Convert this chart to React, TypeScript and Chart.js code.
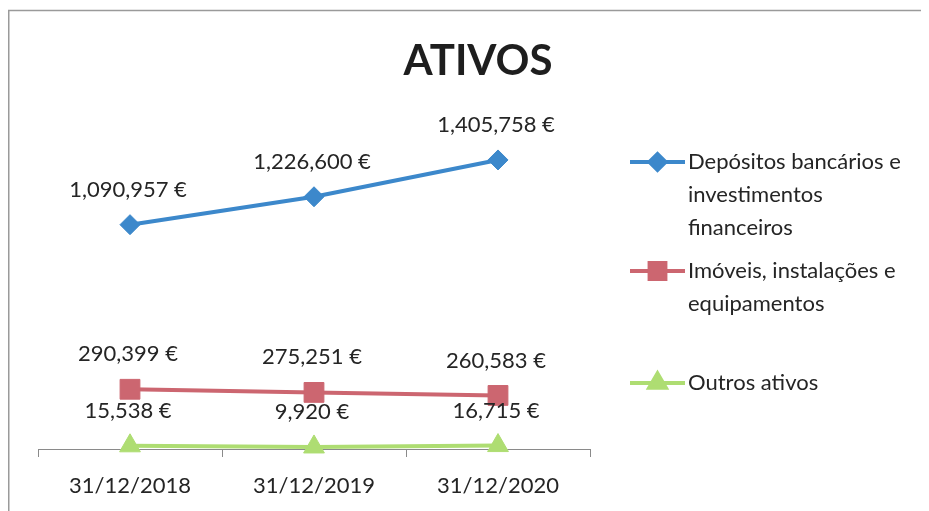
import { useEffect, useRef } from "react";
import { Chart, registerables } from "chart.js";
import { drawPoint } from "chart.js/helpers";

Chart.register(...registerables);

const chartTitle = "ATIVOS";
const categories = ["31/12/2018", "31/12/2019", "31/12/2020"];
const seriesNames = [
  "Depósitos bancários e investimentos financeiros",
  "Imóveis, instalações e equipamentos",
  "Outros ativos",
];
const depositos = [1090957, 1226600, 1405758];
const imoveis = [290399, 275251, 260583];
const outros = [15538, 9920, 16715];

const FONT = "Lato, 'Open Sans', 'Noto Sans', sans-serif";
const BLUE = "#3c88cb";
const RED = "#cc6670";
const GREEN = "#aedd72";
const TEXT = "#252525";

const fmt = (v: number) => String(v).replace(/\B(?=(\d{3})+(?!\d))/g, ",") + " €";

const decoPlugin = {
  id: "deco",
  beforeDraw(chart: any) {
    const { ctx, width, height } = chart;
    ctx.save();
    ctx.fillStyle = "#ffffff";
    ctx.fillRect(0, 0, width, height);
    ctx.strokeStyle = "#9a9a9a";
    ctx.lineWidth = 1.5;
    ctx.beginPath();
    ctx.moveTo(0.75, height);
    ctx.lineTo(0.75, 2.5);
    ctx.lineTo(width, 2.5);
    ctx.stroke();
    ctx.restore();
  },
  afterDatasetsDraw(chart: any) {
    const { ctx } = chart;
    ctx.save();
    ctx.font = `22px ${FONT}`;
    ctx.fillStyle = TEXT;
    ctx.textAlign = "center";
    ctx.textBaseline = "middle";
    chart.data.datasets.forEach((ds: any, i: number) => {
      const meta = chart.getDatasetMeta(i);
      meta.data.forEach((pt: any, j: number) => {
        ctx.fillText(fmt(ds.data[j]), pt.x - 2, pt.y - 35);
      });
    });
    ctx.restore();
  },
  afterDraw(chart: any) {
    const { ctx } = chart;
    ctx.save();
    // title
    ctx.font = `bold 42px ${FONT}`;
    ctx.fillStyle = "#1e1e1e";
    ctx.textAlign = "center";
    ctx.textBaseline = "alphabetic";
    ctx.fillText(chartTitle, 470, 67);

    // legend
    const tops = [154, 263, 375];
    const lineH = 33;
    const lx0 = 622;
    const lx1 = 677;
    const tx = 680;
    const maxW = 240;
    ctx.font = `22px ${FONT}`;
    chart.data.datasets.forEach((ds: any, i: number) => {
      const y = tops[i];
      ctx.strokeStyle = ds.borderColor;
      ctx.lineWidth = 4;
      ctx.beginPath();
      ctx.moveTo(lx0, y);
      ctx.lineTo(lx1, y);
      ctx.stroke();
      ctx.fillStyle = ds.backgroundColor;
      ctx.strokeStyle = ds.borderColor;
      drawPoint(
        ctx,
        { pointStyle: ds.pointStyle, radius: ds.pointRadius * 0.8, rotation: 0, borderWidth: 1 },
        (lx0 + lx1) / 2,
        y
      );
      // wrap text
      const words = String(ds.label).split(" ");
      const lines: string[] = [];
      let cur = "";
      words.forEach((w) => {
        const test = cur ? cur + " " + w : w;
        if (ctx.measureText(test).width > maxW && cur) {
          lines.push(cur);
          cur = w;
        } else {
          cur = test;
        }
      });
      if (cur) lines.push(cur);
      ctx.fillStyle = TEXT;
      ctx.textAlign = "left";
      ctx.textBaseline = "middle";
      lines.forEach((ln, k) => ctx.fillText(ln, tx, y + k * lineH));
    });
    ctx.restore();
  },
};

export default function App() {
  const ref = useRef<HTMLCanvasElement | null>(null);
  useEffect(() => {
    if (!ref.current) return;
    const chart = new Chart(ref.current, {
      type: "line",
      data: {
        labels: categories,
        datasets: [
          {
            label: seriesNames[0],
            data: depositos,
            borderColor: BLUE,
            backgroundColor: BLUE,
            borderWidth: 4,
            pointStyle: "rectRot",
            pointRadius: 10,
            pointBorderWidth: 1,
            clip: false,
          },
          {
            label: seriesNames[1],
            data: imoveis,
            borderColor: RED,
            backgroundColor: RED,
            borderWidth: 4,
            pointStyle: "rect",
            pointRadius: 14,
            pointBorderWidth: 1,
            clip: false,
          },
          {
            label: seriesNames[2],
            data: outros,
            borderColor: GREEN,
            backgroundColor: GREEN,
            borderWidth: 4,
            pointStyle: "triangle",
            pointRadius: 12,
            pointBorderWidth: 1,
            clip: false,
          },
        ] as any,
      },
      options: {
        responsive: false,
        animation: false,
        layout: { padding: { top: 112, left: 30, right: 339, bottom: 0 } },
        plugins: {
          legend: { display: false },
          title: { display: false },
          tooltip: { enabled: false },
        },
        scales: {
          x: {
            offset: true,
            grid: {
              offset: true,
              drawOnChartArea: false,
              drawTicks: true,
              tickLength: 8,
              color: "#8a8a8a",
            },
            border: { color: "#8a8a8a", width: 1 },
            ticks: {
              padding: 16,
              maxRotation: 0,
              color: TEXT,
              font: { family: FONT, size: 22 },
            },
            afterFit: (s: any) => {
              s.height = 62;
            },
          },
          y: { display: false, min: 0, max: 1600000 },
        },
      },
      plugins: [decoPlugin],
    });
    return () => chart.destroy();
  }, []);
  return (
    <canvas
      ref={ref}
      width={921}
      height={503}
      style={{ display: "block", width: 921, height: 503 }}
    />
  );
}
